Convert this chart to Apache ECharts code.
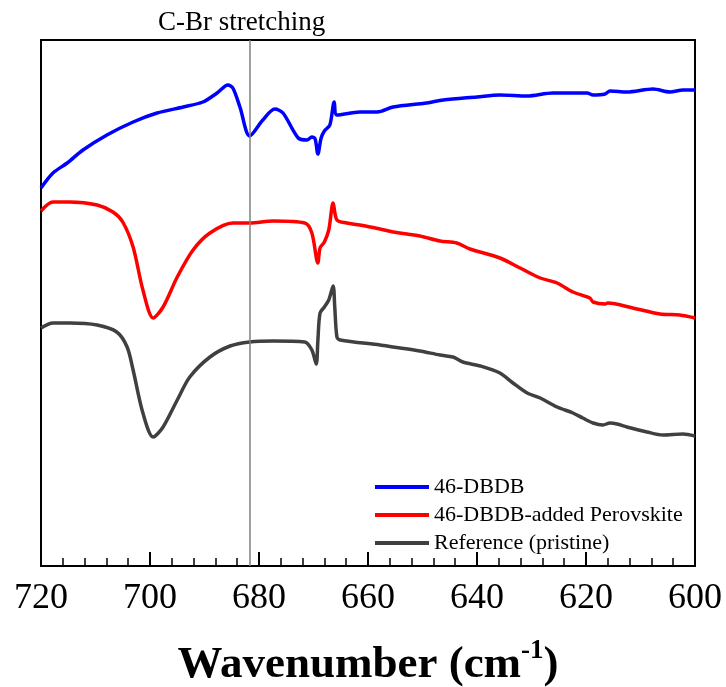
<!DOCTYPE html>
<html>
<head>
<meta charset="utf-8">
<script src="https://cdn.jsdelivr.net/npm/echarts@6/dist/echarts.min.js"></script>
<style>
html,body{margin:0;padding:0;background:#fff;}
#chart{width:726px;height:687px;}
</style>
</head>
<body>
<div id="chart"></div>
<script>
// Wavenumber (cm-1) / transmittance (arbitrary units, offset curves)
var dbdbWn = [720.0,717.8,715.2,712.3,707.9,703.1,698.7,693.9,690.3,687.7,685.7,684.8,683.5,681.7,679.3,677.1,675.6,672.8,671.2,670.3,669.7,669.2,668.6,668.0,667.0,666.2,665.7,661.5,658.3,655.4,649.2,646.2,640.0,635.8,630.8,626.1,619.8,618.7,616.5,615.6,612.5,607.7,604.6,602.2,600.0];
var dbdbT  = [378,393,403,416,431,444,453,459,464,473,481,478,459,430,446,457,453,428,426,429,427,412,428,435,441,464,451,454,454,459,463,466,469,471,470,473,473,471,472,475,474,477,474,476,476];

var perovWn = [720.0,717.8,714.7,709.7,706.8,705.0,703.1,701.3,699.4,697.6,695.0,692.1,689.0,684.8,681.7,677.4,671.6,670.3,669.2,668.8,668.0,667.2,666.4,665.7,663.9,661.5,657.8,655.4,650.5,646.8,643.7,641.3,635.8,632.1,628.4,625.3,622.4,619.3,618.7,616.5,616.0,611.4,606.4,602.8,600.0];
var perovT  = [355,364,364,361,354,344,319,276,248,259,289,316,333,343,343,345,343,333,303,318,324,336,363,346,343,341,337,334,330,325,323,317,308,298,288,283,274,268,264,262,263,258,252,251,248];

var refWn = [720.0,717.8,714.7,709.7,706.1,704.2,703.1,701.3,699.4,697.6,695.0,692.7,689.0,685.3,681.7,677.4,671.6,670.3,669.5,669.2,668.8,668.0,667.2,666.4,666.1,665.7,665.1,657.8,655.4,650.5,646.8,644.4,642.6,639.4,635.8,633.4,630.8,628.4,625.3,622.4,620.6,618.7,616.9,615.6,614.3,612.5,608.8,605.9,602.2,600.0];
var refT  = [238,243,243,241,234,219,196,153,129,139,166,189,209,220,224,225,224,216,202,225,253,259,266,280,259,229,226,221,219,215,211,209,204,200,193,183,173,168,159,153,148,143,141,143,142,139,134,131,132,130];

var seriesNames = ['46-DBDB','46-DBDB-added Perovskite','Reference (pristine)'];
var seriesColors = ['#0000ff','#ff0000','#404040'];
var xTicks = [720,700,680,660,640,620,600];
var cBrLine = 681.7;

function pairs(xs, ys){ return xs.map(function(x,i){ return [x, ys[i]]; }); }

var FONT = '"Liberation Serif","Times New Roman",serif';
var chart = echarts.init(document.getElementById('chart'));
var option = {
  animation: false,
  backgroundColor: '#fff',
  title: {
    text: 'C-Br stretching', left: 153, top: 4,
    textStyle: {fontFamily: FONT, fontSize: 27, fontWeight: 'normal', color: '#000'}
  },
  grid: {left: 41, right: 31, top: 40, bottom: 121, show: true, borderColor: '#000', borderWidth: 2,
    backgroundColor: 'transparent', outerBoundsMode: 'none', containLabel: false},
  legend: {
    data: seriesNames.map(function(n){ return {name: n, icon: 'rect'}; }),
    orient: 'vertical', left: 370, top: 471,
    itemWidth: 54, itemHeight: 4, itemGap: 6,
    textStyle: {fontFamily: FONT, fontSize: 22, color: '#000', lineHeight: 22},
    selectedMode: false
  },
  xAxis: {
    type: 'value', inverse: true, min: 600, max: 720, interval: 20,
    axisLine: {show: true, lineStyle: {color: '#000', width: 2}},
    axisTick: {show: true, inside: true, length: 14, lineStyle: {color: '#000', width: 2}},
    minorTick: {show: true, splitNumber: 5, length: 8, lineStyle: {color: '#000', width: 1.5}},
    splitLine: {show: false},
    axisLabel: {fontFamily: FONT, fontSize: 36, color: '#000', margin: 15,
      formatter: function(v){ return xTicks.indexOf(v) >= 0 ? String(v) : ''; }},
    name: '{a|Wavenumber (cm}{s|-1}{a|)}',
    nameLocation: 'middle', nameGap: 72,
    nameTextStyle: {
      rich: {
        a: {fontFamily: FONT, fontSize: 45, fontWeight: 'bold', color: '#000', lineHeight: 50, verticalAlign: 'bottom'},
        s: {fontFamily: FONT, fontSize: 27, fontWeight: 'bold', color: '#000', lineHeight: 26, verticalAlign: 'top'}
      }
    }
  },
  yAxis: {type: 'value', min: 0, max: 526, show: false},
  series: [
    {
      name: 'marker', type: 'line', data: [], silent: true, z: 1,
      markLine: {
        silent: true, symbol: ['none','none'], animation: false,
        label: {show: false},
        lineStyle: {color: '#808080', width: 1.5, type: 'solid'},
        data: [{xAxis: cBrLine}]
      }
    },
    {name: seriesNames[0], type: 'line', data: pairs(dbdbWn, dbdbT), showSymbol: false, symbol: 'none', smooth: 0.3, z: 3,
      lineStyle: {color: seriesColors[0], width: 3.5}, itemStyle: {color: seriesColors[0]}},
    {name: seriesNames[1], type: 'line', data: pairs(perovWn, perovT), showSymbol: false, symbol: 'none', smooth: 0.3, z: 3,
      lineStyle: {color: seriesColors[1], width: 3.5}, itemStyle: {color: seriesColors[1]}},
    {name: seriesNames[2], type: 'line', data: pairs(refWn, refT), showSymbol: false, symbol: 'none', smooth: 0.3, z: 3,
      lineStyle: {color: seriesColors[2], width: 3.5}, itemStyle: {color: seriesColors[2]}}
  ]
};
chart.setOption(option);
</script>
</body>
</html>
